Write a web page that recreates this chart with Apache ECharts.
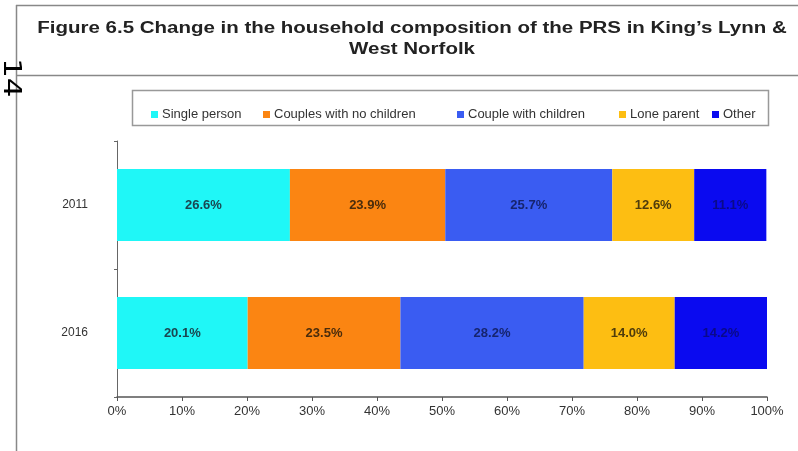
<!DOCTYPE html>
<html><head><meta charset="utf-8">
<script src="https://cdn.jsdelivr.net/npm/echarts@6/dist/echarts.min.js"></script>
<style>html,body{margin:0;padding:0;background:#fff}#c{width:798px;height:451px}</style>
</head><body><div id="c"></div>
<script>
const categories = ['2016', '2011'];
const seriesNames = ['Single person', 'Couples with no children', 'Couple with children', 'Lone parent', 'Other'];
const singlePerson = [20.1, 26.6];
const couplesNoChildren = [23.5, 23.9];
const coupleWithChildren = [28.2, 25.7];
const loneParent = [14.0, 12.6];
const other = [14.2, 11.1];
const xTicks = [0, 10, 20, 30, 40, 50, 60, 70, 80, 90, 100];

const colors = ['#1ff7f7', '#fb8512', '#3a5cf2', '#fdbe12', '#0a0af0'];
const labelColors = ['#1a4650', '#4a2c0c', '#16246e', '#4f3c0c', '#0a0a8a'];
const values = [singlePerson, couplesNoChildren, coupleWithChildren, loneParent, other];
const legendLeft = [146, 258, 452, 614, 707];
const FONT = '"Liberation Sans", Arial, sans-serif';

const chart = echarts.init(document.getElementById('c'));
chart.setOption({
  animation: false,
  graphic: [
    {type: 'line', shape: {x1: 16, y1: 5.5, x2: 798, y2: 5.5}, style: {stroke: '#888', lineWidth: 1.5}},
    {type: 'line', shape: {x1: 16, y1: 75.5, x2: 798, y2: 75.5}, style: {stroke: '#888', lineWidth: 1.5}},
    {type: 'line', shape: {x1: 16.5, y1: 5, x2: 16.5, y2: 451}, style: {stroke: '#888', lineWidth: 1.5}},
    {type: 'rect', shape: {x: 132.5, y: 90.5, width: 636, height: 35}, style: {fill: 'none', stroke: '#999', lineWidth: 1.5}},
    {type: 'text', x: 412, y: 18, scaleX: 1.28, style: {text: 'Figure 6.5 Change in the household composition of the PRS in King\u2019s Lynn &\nWest Norfolk', font: 'bold 16px ' + FONT, fill: '#222', align: 'center', lineHeight: 21}},
    {type: 'text', x: 22, y: 58, rotation: -Math.PI / 2, scaleX: 1.3, style: {text: '14', font: '24px "DejaVu Sans", sans-serif', fill: '#000'}}
  ],
  legend: seriesNames.map((name, i) => ({
    top: 103, left: legendLeft[i],
    itemWidth: 7, itemHeight: 7, itemGap: 0,
    icon: 'rect',
    textStyle: {fontSize: 13, color: '#333', fontFamily: FONT, padding: [0, 0, 0, -1]},
    data: [name]
  })),
  grid: {left: 117, right: 31, top: 141, bottom: 54, containLabel: false},
  xAxis: {
    type: 'value', min: 0, max: 100, interval: 10,
    axisLine: {show: true, lineStyle: {color: '#555', width: 1.5}},
    axisTick: {show: true, length: 4, inside: false, lineStyle: {color: '#555'}},
    splitLine: {show: false},
    axisLabel: {formatter: v => v + '%', color: '#333', fontSize: 13, margin: 8, fontFamily: FONT}
  },
  yAxis: {
    type: 'category', data: categories,
    axisLine: {show: true, lineStyle: {color: '#666', width: 1}},
    axisTick: {show: true, length: 3, lineStyle: {color: '#666'}},
    axisLabel: {color: '#333', fontSize: 12, margin: 29, fontFamily: FONT}
  },
  series: seriesNames.map((name, i) => ({
    name, type: 'bar', stack: 'total', barWidth: 72,
    itemStyle: {color: colors[i]},
    label: {show: true, position: 'inside', formatter: p => p.value.toFixed(1) + '%', color: labelColors[i], fontSize: 13, fontWeight: 'bold', fontFamily: FONT},
    data: values[i]
  }))
});
</script></body></html>
